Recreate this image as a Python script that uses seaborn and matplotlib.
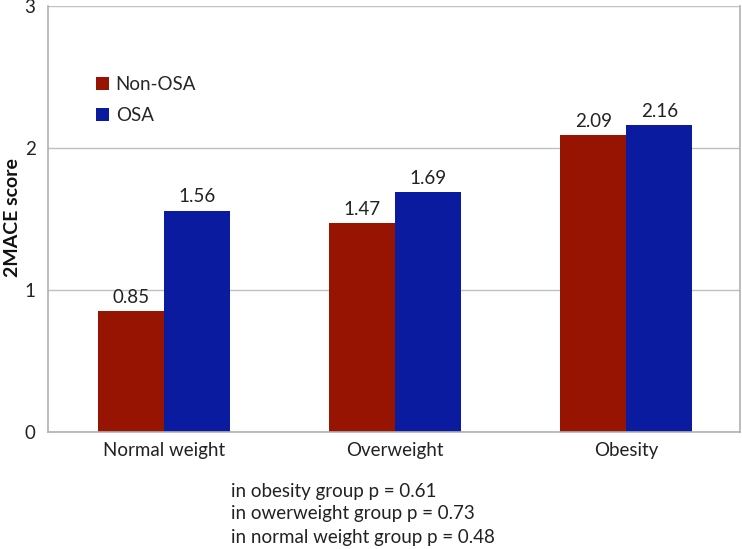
import matplotlib
matplotlib.use("Agg")
import matplotlib.pyplot as plt
import seaborn as sns
import pandas as pd

categories = ["Normal weight", "Overweight", "Obesity"]
groups = ["Non-OSA", "OSA"]
non_osa = [0.85, 1.47, 2.09]
osa = [1.56, 1.69, 2.16]
y_ticks = [0, 1, 2, 3]
notes = ["in obesity group p = 0.61",
         "in owerweight group p = 0.73",
         "in normal weight group p = 0.48"]

df = pd.DataFrame({
    "category": categories * 2,
    "group": [groups[0]] * 3 + [groups[1]] * 3,
    "value": non_osa + osa,
})

sns.set_theme(style="white")
plt.rcParams['font.family'] = ['Lato', 'DejaVu Sans']

fig = plt.figure(figsize=(7.42, 5.49), dpi=100)
ax = fig.add_axes([0.0647, 0.213, 0.9323, 0.776])

palette = {"Non-OSA": "#981402", "OSA": "#0A1BA0"}
sns.barplot(data=df, x="category", y="value", hue="group", order=categories,
            hue_order=groups, palette=palette, width=0.57, saturation=1,
            edgecolor="none", ax=ax, legend=True)

for cont in ax.containers:
    ax.bar_label(cont, fmt="%.2f", padding=4, fontsize=13.5, color="#222222")

ax.set_xlim(-0.5, 2.49)
ax.set_ylim(0, 3)
ax.set_yticks(y_ticks)
ax.set_yticklabels([str(t) for t in y_ticks], fontsize=13.5, color="#222222")
ax.yaxis.grid(True, color="#c0c0c0", linewidth=1)
ax.set_axisbelow(True)
ax.set_xticks([0, 1, 2])
ax.set_xticklabels(categories, fontsize=13.5, color="#222222")
ax.set_xticks([0.5, 1.5], minor=True)
ax.tick_params(axis="x", which="major", length=0, pad=7)
ax.tick_params(axis="x", which="minor", length=5, color="#a0a0a0", direction="out")
ax.tick_params(axis="y", length=5, color="#a0a0a0", direction="out", pad=4)
ax.set_xlabel("")
ax.set_ylabel("")
fig.text(13 / 742, 1 - 218 / 549, "2MACE score", fontsize=14, fontweight="bold",
         rotation=90, ha="center", va="center", color="#111111")
for side in ["left", "bottom", "right", "top"]:
    ax.spines[side].set_color("#b0b0b0")
    ax.spines[side].set_linewidth(1.2)
ax.spines["top"].set_visible(False)

leg = ax.legend(loc="upper left", bbox_to_anchor=(0.045, 0.875), frameon=False,
                fontsize=13.5, handlelength=0.7, handleheight=0.7,
                handletextpad=0.35, labelspacing=0.75)

for i, line in enumerate(notes):
    fig.text(0.311, 1 - (491 + 23 * i) / 549, line, fontsize=13.5,
             color="#222222", va="center", ha="left")

fig.savefig("out.png", dpi=100)
